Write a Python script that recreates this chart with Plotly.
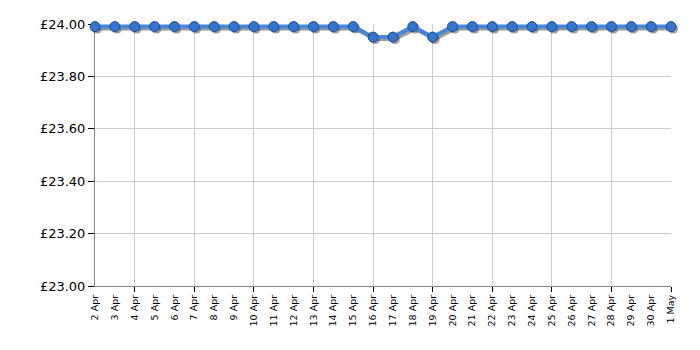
import plotly.graph_objects as go
import pandas as pd

dates = pd.date_range("2024-04-02", "2024-05-01", freq="D")
prices = [23.99]*14 + [23.95, 23.95, 23.99, 23.95] + [23.99]*12
y_ticks = [23.0, 23.2, 23.4, 23.6, 23.8, 24.0]
y_labels = ["£23.00", "£23.20", "£23.40", "£23.60", "£23.80", "£24.00"]

xr = [dates[0], dates[-1]]
yr = [23.0, 24.0]
DAY = 86400000
S = 2
L, R, T, B = 95, 29 - S, 24, 64 - S
pw = 700 - L - R
ph = 350 - T - B
dx = S / pw
dy = S / ph

fig = go.Figure()
# grid subplot (holds axes, no visible marks)
fig.add_trace(go.Scatter(x=[dates[0]], y=[None], xaxis="x", yaxis="y", mode="lines",
                         hoverinfo="skip", showlegend=False))
# shadow (subplot 2, offset right/down)
fig.add_trace(go.Scatter(x=dates, y=prices, xaxis="x2", yaxis="y2", mode="lines+markers",
                         line=dict(color="rgba(90,90,90,0.6)", width=4),
                         marker=dict(size=10, color="rgba(90,90,90,0.6)"),
                         cliponaxis=False, hoverinfo="skip", showlegend=False))
# main series (subplot 3, aligned with grid axes)
fig.add_trace(go.Scatter(x=dates, y=prices, xaxis="x3", yaxis="y3", mode="lines+markers",
                         line=dict(color="#4a86d8", width=4),
                         marker=dict(size=10, color="#3674cc", line=dict(color="#1d4f94", width=1)),
                         cliponaxis=False, showlegend=False))

fig.update_layout(
    width=700, height=350,
    margin=dict(l=L, r=R, t=T, b=B),
    paper_bgcolor="white", plot_bgcolor="rgba(0,0,0,0)",
    font=dict(family="DejaVu Sans, Verdana", color="#000"),
    xaxis=dict(type="date", range=xr, dtick=3*DAY, tick0="2024-04-04",
               domain=[0, 1 - dx], anchor="y", showticklabels=False,
               showgrid=True, gridcolor="#cccccc", gridwidth=1,
               ticks="outside", ticklen=5, tickcolor="#000",
               showline=True, linecolor="#888", linewidth=1, zeroline=False),
    yaxis=dict(range=yr, tickvals=y_ticks, ticktext=y_labels, domain=[dy, 1], anchor="x",
               tickfont=dict(size=13), showgrid=True, gridcolor="#cccccc",
               ticks="outside", ticklen=6, tickcolor="#000",
               showline=True, linecolor="#888", linewidth=1, zeroline=False),
    xaxis2=dict(type="date", range=xr, visible=False, domain=[dx, 1], anchor="y2"),
    yaxis2=dict(range=yr, visible=False, domain=[0, 1 - dy], anchor="x2"),
    xaxis3=dict(type="date", range=xr, domain=[0, 1 - dx], anchor="y3",
                dtick=DAY, tick0=dates[0], tickformat="%-d %b", tickangle=-90,
                tickfont=dict(size=9.5), showgrid=False, ticks="", showline=False,
                zeroline=False, ticklabelstandoff=6),
    yaxis3=dict(range=yr, visible=False, domain=[dy, 1], anchor="x3"),
)
fig.write_html("out.html")
